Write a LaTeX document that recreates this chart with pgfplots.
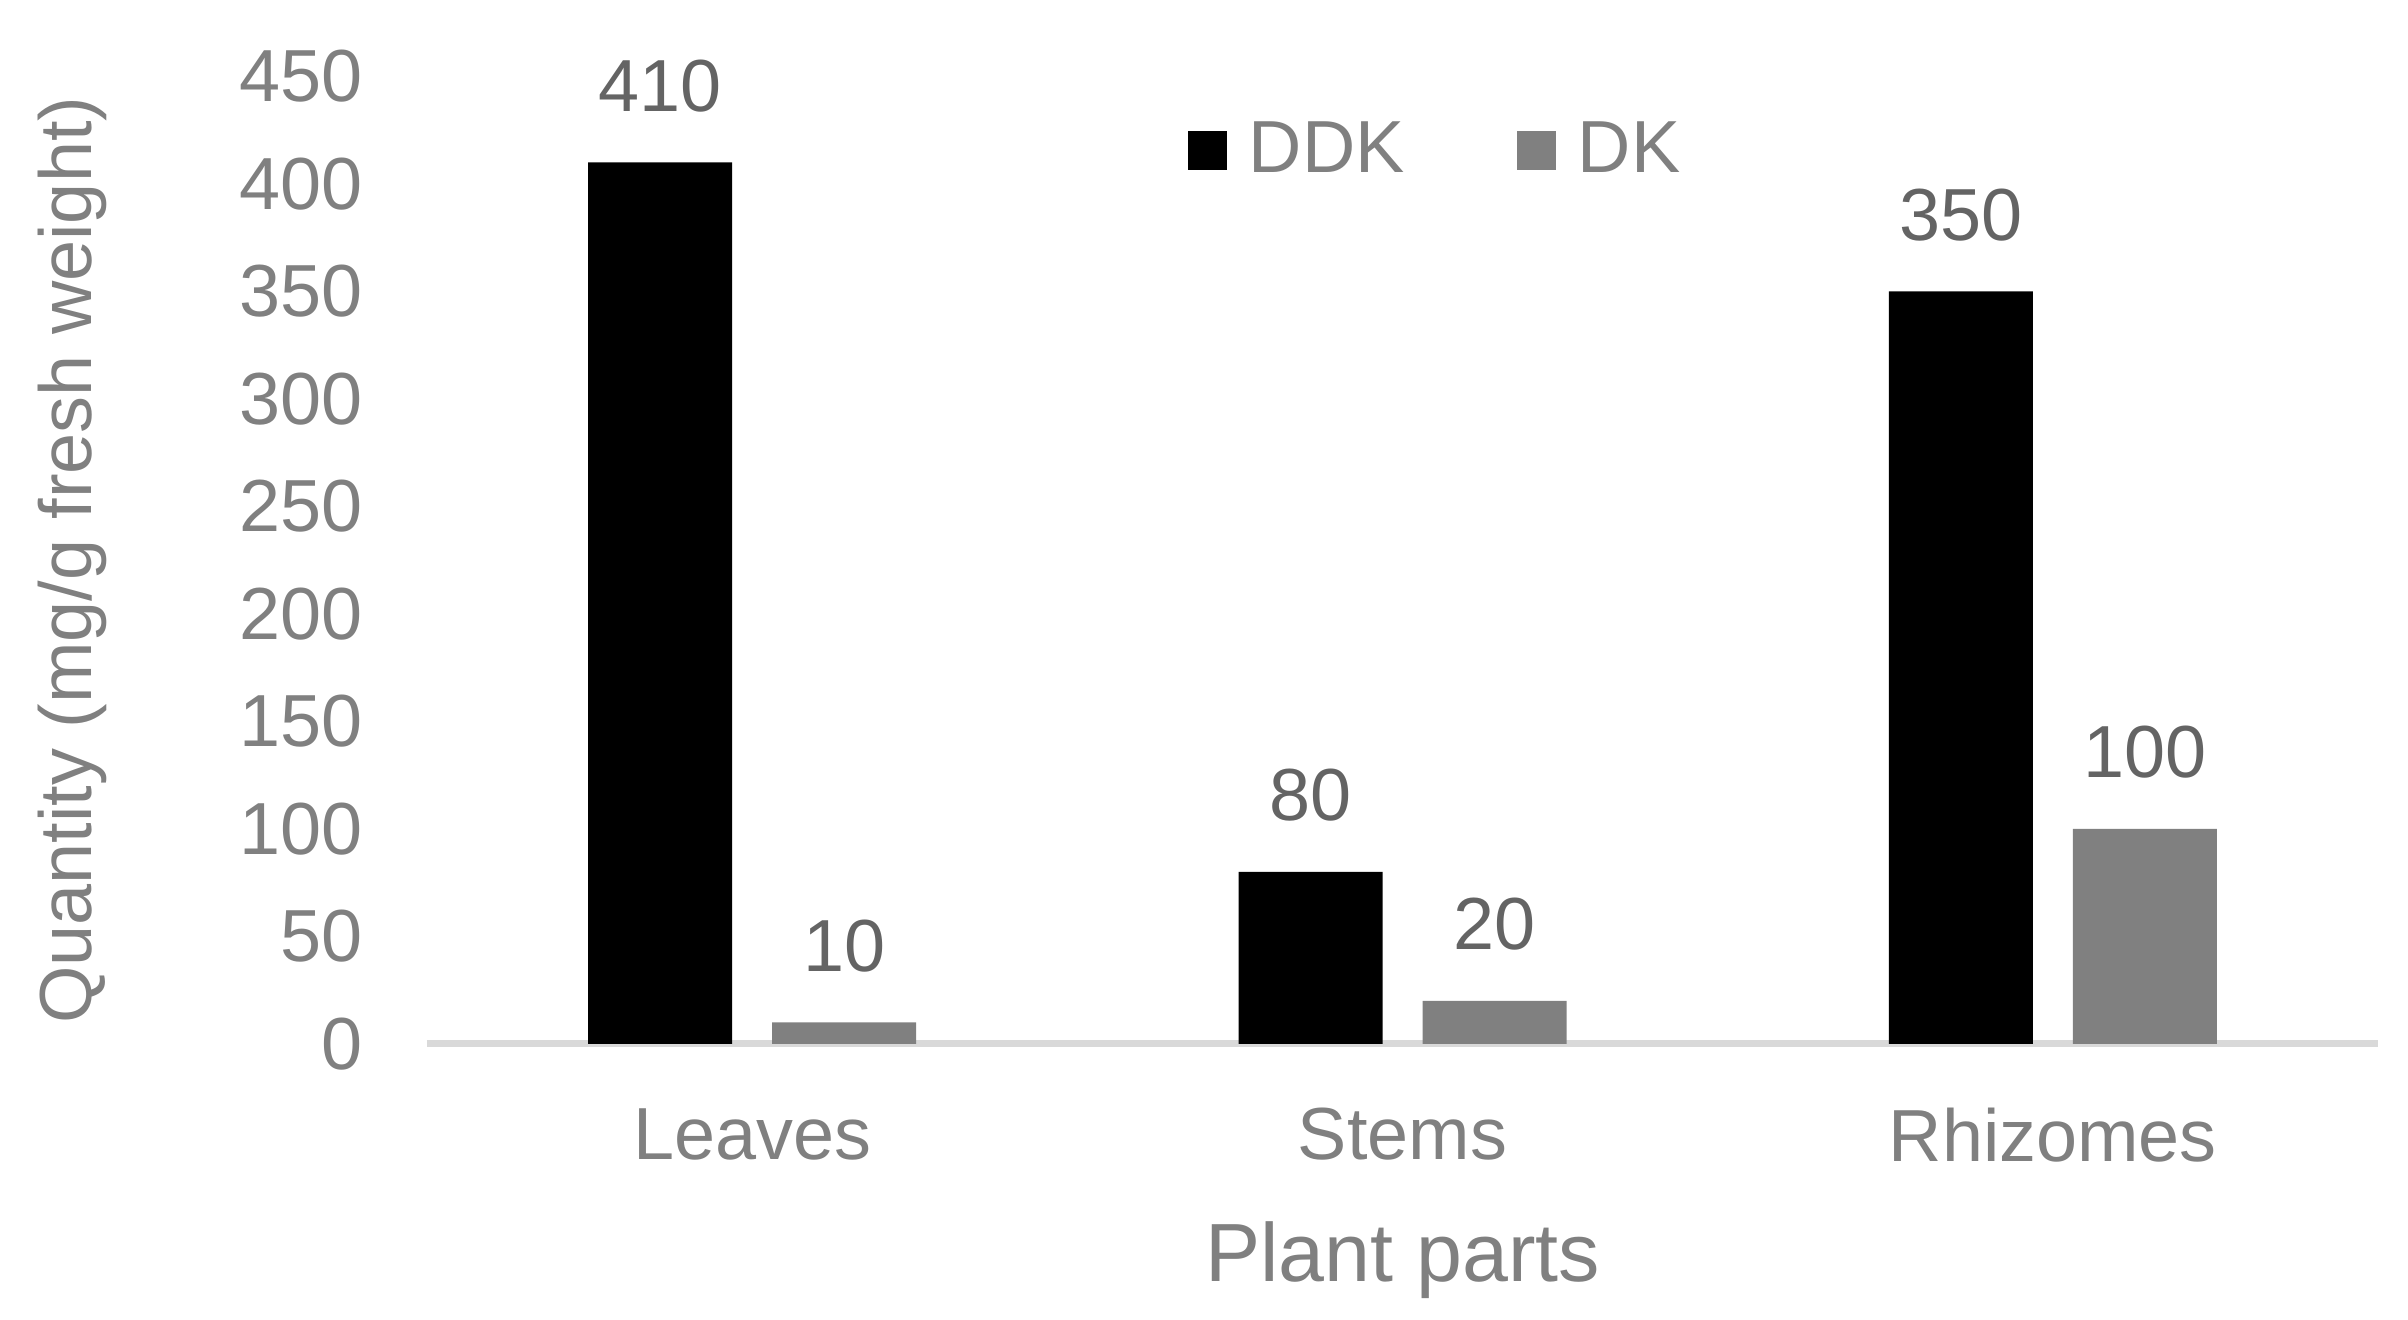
\documentclass[border=0pt]{standalone}
\usepackage{pgfplots}
\pgfplotsset{compat=1.18}
\usepackage{fontspec}
\setmainfont{Liberation Sans}
\definecolor{dkgray}{RGB}{128,128,128}
\definecolor{txtgray}{RGB}{128,128,128}
\definecolor{lblgray}{RGB}{100,100,100}
\definecolor{axgray}{RGB}{217,217,217}

\begin{document}
\begin{tikzpicture}
\path[use as bounding box] (-4.27cm,-2.76cm) rectangle (19.81cm,10.44cm);
\begin{axis}[
  at={(0,0)}, anchor=south west,
  scale only axis, width=19.51cm, height=9.675cm,
  ybar, bar width=1.44cm,
  xmin=-0.5, xmax=2.5, ymin=0, ymax=450,
  xtick=data, xticklabels={Leaves,Stems,Rhizomes},
  ytick distance=50,
  axis x line*=bottom, axis y line*=left,
  x axis line style={-, axgray, line width=0.07cm},
  y axis line style={draw=none},
  major tick length=0pt,
  tick style={draw=none},
  clip=false,
  /pgf/number format/assume math mode=true,
  ticklabel style={font=\fontsize{21}{25}\selectfont, text=txtgray},
  yticklabel style={anchor=east, xshift=-0.52cm},
  xticklabel style={anchor=north, yshift=-0.52cm},
  ylabel={Quantity (mg/g fresh weight)},
  ylabel style={at={(axis description cs:0,0.5)}, anchor=center, yshift=3.55cm,
    font=\fontsize{21}{25}\selectfont, text=txtgray},
  xlabel={Plant parts},
  xlabel style={at={(axis description cs:0.5,0)}, anchor=north, yshift=-1.65cm,
    font=\fontsize{23.5}{28}\selectfont, text=txtgray},
  nodes near coords,
  nodes near coords style={font=\fontsize{21}{25}\selectfont, text=lblgray, yshift=0.38cm},
  legend columns=2,
  legend style={at={(0.518,0.924)}, anchor=center, draw=none, fill=none,
    font=\fontsize{21}{25}\selectfont, text=txtgray,
    /tikz/every even column/.append style={column sep=1.05cm}},
  legend image code/.code={\fill[#1,draw=none] (0cm,-0.195cm) rectangle (0.39cm,0.195cm);
    \path (0.54cm,0cm);},
]
\addplot[fill=black, draw=none, bar shift=-0.92cm] coordinates {(0,410) (1,80) (2,350)};
\addplot[fill=dkgray, draw=none, bar shift=0.92cm] coordinates {(0,10) (1,20) (2,100)};
\legend{DDK,DK}
\end{axis}
\end{tikzpicture}
\end{document}
